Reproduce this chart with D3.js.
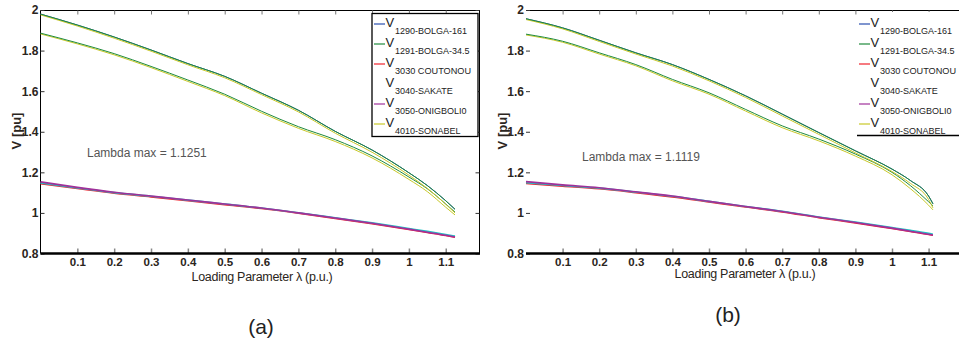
<!DOCTYPE html>
<html>
<head>
<meta charset="utf-8">
<script src="https://cdn.jsdelivr.net/npm/d3@7"></script>
<style>
  html, body { margin: 0; padding: 0; background: #fff; }
  svg { display: block; }
  text { font-family: "Liberation Sans", Arial, sans-serif; }
</style>
</head>
<body>
<svg id="chart" width="959" height="345"></svg>
<script>
// ---------- data ----------
const xTicks = [0.1, 0.2, 0.3, 0.4, 0.5, 0.6, 0.7, 0.8, 0.9, 1, 1.1];
const xTickLabels = ["0.1", "0.2", "0.3", "0.4", "0.5", "0.6", "0.7", "0.8", "0.9", "1", "1.1"];
const yTicks = [0.8, 1, 1.2, 1.4, 1.6, 1.8, 2];
const yTickLabels = ["0.8", "1", "1.2", "1.4", "1.6", "1.8", "2"];

const legendNames = ["1290-BOLGA-161", "1291-BOLGA-34.5", "3030 COUTONOU", "3040-SAKATE", "3050-ONIGBOLI0", "4010-SONABEL"];
const legendColors = ["#2b4fb0", "#1f8a3c", "#f0202a", "#ffffff", "#a0309a", "#c8c828"];
const seriesColors = ["#2b4fb0", "#1f8a3c", "#f0202a", "#1fc4c4", "#a0309a", "#c8c828"];

// panel (a)
const lambdaA = [0, 0.1, 0.2, 0.3, 0.4, 0.5, 0.6, 0.7, 0.8, 0.9, 1.0, 1.05, 1.1, 1.1251];
const v1290A = [1.980, 1.926, 1.867, 1.803, 1.736, 1.673, 1.590, 1.506, 1.402, 1.310, 1.198, 1.135, 1.060, 1.018];
const v1291A = [1.980, 1.926, 1.867, 1.803, 1.736, 1.673, 1.590, 1.506, 1.402, 1.310, 1.198, 1.135, 1.060, 1.018];
const v3030A = [1.144, 1.120, 1.097, 1.079, 1.060, 1.041, 1.022, 0.999, 0.973, 0.947, 0.919, 0.904, 0.889, 0.880];
const v3040A = [1.148, 1.123, 1.100, 1.082, 1.063, 1.044, 1.024, 1.001, 0.976, 0.951, 0.923, 0.909, 0.894, 0.886];
const v3050A = [1.153, 1.126, 1.102, 1.083, 1.064, 1.044, 1.024, 1.000, 0.975, 0.949, 0.920, 0.905, 0.890, 0.881];
const v4010A = [1.976, 1.921, 1.861, 1.797, 1.730, 1.666, 1.583, 1.498, 1.393, 1.299, 1.186, 1.121, 1.043, 1.000];
const v2GreenA = [1.886, 1.838, 1.785, 1.722, 1.655, 1.585, 1.501, 1.425, 1.361, 1.281, 1.177, 1.119, 1.044, 1.004];
const v2YellowA = [1.882, 1.833, 1.779, 1.716, 1.648, 1.578, 1.493, 1.417, 1.352, 1.271, 1.165, 1.105, 1.028, 0.990];

// panel (b)
const lambdaB = [0, 0.1, 0.2, 0.3, 0.4, 0.5, 0.6, 0.7, 0.8, 0.9, 1.0, 1.05, 1.1, 1.1119];
const v1290B = [1.957, 1.912, 1.851, 1.789, 1.731, 1.658, 1.577, 1.487, 1.396, 1.306, 1.216, 1.160, 1.083, 1.045];
const v1291B = [1.957, 1.912, 1.851, 1.789, 1.731, 1.658, 1.577, 1.487, 1.396, 1.306, 1.216, 1.160, 1.083, 1.045];
const v3030B = [1.145, 1.132, 1.119, 1.100, 1.079, 1.054, 1.029, 1.005, 0.977, 0.951, 0.923, 0.909, 0.894, 0.890];
const v3040B = [1.149, 1.135, 1.122, 1.103, 1.082, 1.057, 1.032, 1.008, 0.980, 0.955, 0.928, 0.914, 0.899, 0.895];
const v3050B = [1.154, 1.138, 1.124, 1.104, 1.083, 1.057, 1.032, 1.007, 0.979, 0.953, 0.925, 0.910, 0.895, 0.891];
const v4010B = [1.953, 1.907, 1.845, 1.783, 1.724, 1.651, 1.569, 1.478, 1.387, 1.296, 1.204, 1.146, 1.066, 1.025];
const v2GreenB = [1.881, 1.846, 1.789, 1.731, 1.658, 1.592, 1.510, 1.429, 1.364, 1.290, 1.200, 1.135, 1.055, 1.035];
const v2YellowB = [1.877, 1.841, 1.783, 1.725, 1.651, 1.585, 1.502, 1.420, 1.355, 1.280, 1.188, 1.120, 1.038, 1.015];

const lambdaMaxText = ["Lambda max = 1.1251", "Lambda max = 1.1119"];
const panelLabels = ["(a)", "(b)"];

// ---------- drawing ----------
const svg = d3.select("#chart");

function drawPanel(cfg) {
  const g = svg.append("g");
  const x = d3.scaleLinear().domain([0, 1.19]).range([cfg.x0, cfg.x0 + 1.19 * cfg.pxPerUnit]);
  const y = d3.scaleLinear().domain([0.8, 2]).range([253.5, 10]);
  const xR = cfg.xRight;

  // top border
  g.append("line").attr("x1", x(0)).attr("x2", xR).attr("y1", 10.5).attr("y2", 10.5)
    .attr("stroke", "#000").attr("stroke-width", 1);
  g.append("g").attr("transform", "translate(0,10.5)")
    .call(d3.axisTop(x).tickValues(xTicks).tickSize(-4).tickFormat(""))
    .call(s => s.select(".domain").remove())
    .call(s => s.selectAll("line").attr("stroke", "#777"));

  // left axis
  const yAx = g.append("g").attr("transform", `translate(${x(0)},0)`)
    .call(d3.axisLeft(y).tickValues(yTicks).tickSize(-4).tickPadding(6)
      .tickFormat((d, i) => yTickLabels[i]));
  yAx.select(".domain").attr("stroke", cfg.leftLine ? "#000" : "none").attr("d", `M0,10.5V253.5`);
  yAx.selectAll("line").attr("stroke", "#333");
  yAx.selectAll("text").attr("x", -2).attr("font-size", "12px").attr("font-weight", "bold")
    .attr("fill", "#2b2520").attr("font-family", "'Liberation Sans', Arial, sans-serif");

  // right border
  if (cfg.rightBorder) {
    g.append("line").attr("x1", xR - 0.5).attr("x2", xR - 0.5).attr("y1", 10).attr("y2", 254)
      .attr("stroke", "#000").attr("stroke-width", 1);
    g.append("g").attr("transform", `translate(${xR - 0.5},0)`)
      .call(d3.axisRight(y).tickValues(yTicks).tickSize(-4).tickFormat(""))
      .call(s => s.select(".domain").remove())
      .call(s => s.selectAll("line").attr("stroke", "#333"));
  }

  // bottom axis
  const xAx = g.append("g").attr("transform", "translate(0,253.5)")
    .call(d3.axisBottom(x).tickValues(xTicks).tickSize(-5).tickPadding(4)
      .tickFormat((d, i) => xTickLabels[i]));
  xAx.select(".domain").remove();
  xAx.selectAll("line").attr("stroke", "#888").attr("stroke-width", 1.5);
  xAx.selectAll("text").attr("y", 4).attr("font-size", "11.5px").attr("font-weight", "bold")
    .attr("fill", "#2b2520").attr("font-family", "'Liberation Sans', Arial, sans-serif");
  g.append("line").attr("x1", x(0)).attr("x2", xR).attr("y1", 253.5).attr("y2", 253.5)
    .attr("stroke", "#000").attr("stroke-width", 2.5);

  // lines
  const line = d3.line().curve(d3.curveMonotoneX).x(d => x(d[0])).y(d => y(d[1]));
  cfg.series.forEach(s => {
    g.append("path")
      .datum(cfg.lambda.map((l, i) => [l, s.values[i]]))
      .attr("fill", "none").attr("stroke", s.color).attr("stroke-width", s.w || 1)
      .attr("d", line);
  });

  // legend
  const lg = g.append("g");
  if (cfg.legendBox) {
    lg.append("rect").attr("x", cfg.legX).attr("y", 13.5).attr("width", cfg.legW).attr("height", 123)
      .attr("fill", "#fff").attr("stroke", "#000").attr("stroke-width", 1.3);
  } else {
    lg.append("rect").attr("x", cfg.legX).attr("y", 12).attr("width", cfg.legW).attr("height", 123)
      .attr("fill", "#fff");
    lg.append("line").attr("x1", cfg.legX).attr("x2", cfg.legX + cfg.legW).attr("y1", 135.5).attr("y2", 135.5)
      .attr("stroke", "#000").attr("stroke-width", 1.3);
  }
  legendNames.forEach((name, i) => {
    const yy = 24 + 20 * i;
    lg.append("line").attr("x1", cfg.legX + 2).attr("x2", cfg.legX + 13).attr("y1", yy).attr("y2", yy)
      .attr("stroke", legendColors[i]).attr("stroke-width", 1.2);
    const t = lg.append("text").attr("x", cfg.legX + 13.5).attr("y", yy + 2.5)
      .attr("fill", "#222").attr("font-size", "13px");
    t.append("tspan").text("V");
    const sub = t.append("tspan").attr("x", cfg.legX + 23).attr("y", yy + 9.5).attr("font-size", "9px")
      .text(name);
    if (i === 2) sub.attr("textLength", 76).attr("lengthAdjust", "spacingAndGlyphs");
  });

  // lambda max annotation
  g.append("text").attr("x", cfg.lamX).attr("y", cfg.lamY).attr("font-size", "12px")
    .attr("fill", "#555").text(cfg.lamText);

  // axis titles
  g.append("text").attr("transform", `translate(${cfg.yLabX},131) rotate(-90)`)
    .attr("text-anchor", "middle").attr("font-size", "13px").attr("font-weight", "bold")
    .attr("fill", "#2b2520").text("V [pu]");
  g.append("text").attr("x", cfg.xLabX).attr("y", cfg.xLabY).attr("text-anchor", "middle")
    .attr("font-size", "12.5px").attr("fill", "#2b2520").attr("letter-spacing", "-0.3px")
    .text("Loading Parameter \u03bb (p.u.)");

  // panel label
  svg.append("text").attr("x", cfg.panX).attr("y", cfg.panY).attr("text-anchor", "middle")
    .attr("font-size", "21px").attr("fill", "#222")
    .attr("font-family", "Carlito, 'Open Sans', 'Liberation Sans', sans-serif")
    .text(cfg.panText);
}

function makeSeries(vals, extraGreen, extraYellow) {
  const order = [0, 5, 1, 2, 3, 4];
  const s = [];
  s.push({ values: extraYellow, color: seriesColors[5] });
  s.push({ values: extraGreen, color: seriesColors[1] });
  order.forEach(i => s.push({ values: vals[i], color: seriesColors[i], w: i >= 2 && i <= 4 ? 1.6 : 1 }));
  return s;
}

drawPanel({
  x0: 40.5, pxPerUnit: 368.4, xRight: 480, rightBorder: true, leftLine: true,
  lambda: lambdaA,
  series: makeSeries([v1290A, v1291A, v3030A, v3040A, v3050A, v4010A], v2GreenA, v2YellowA),
  legendBox: true, legX: 372, legW: 106,
  lamX: 87, lamY: 157, lamText: lambdaMaxText[0],
  yLabX: 21, xLabX: 262, xLabY: 281,
  panX: 261, panY: 334, panText: panelLabels[0]
});

drawPanel({
  x0: 526, pxPerUnit: 366, xRight: 959, rightBorder: false, leftLine: false,
  lambda: lambdaB,
  series: makeSeries([v1290B, v1291B, v3030B, v3040B, v3050B, v4010B], v2GreenB, v2YellowB),
  legendBox: false, legX: 857, legW: 102,
  lamX: 582, lamY: 161, lamText: lambdaMaxText[1],
  yLabX: 507, xLabX: 745, xLabY: 278,
  panX: 728, panY: 322, panText: panelLabels[1]
});
</script>
</body>
</html>
